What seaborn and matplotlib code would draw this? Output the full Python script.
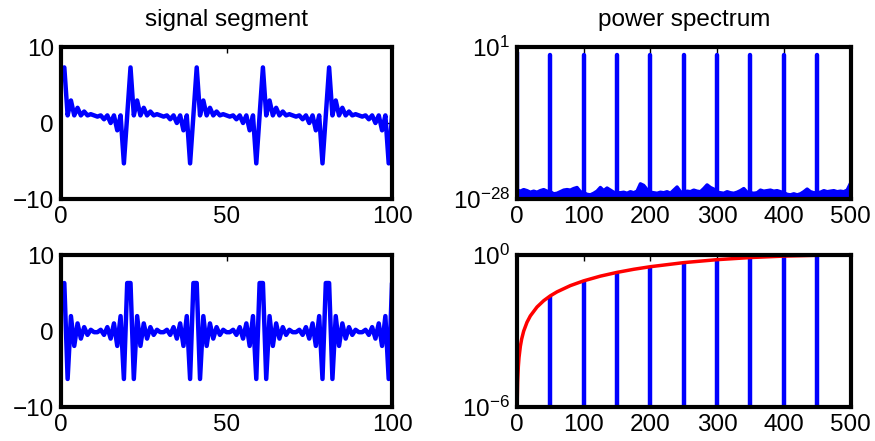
import matplotlib
matplotlib.use("Agg")
import matplotlib.pyplot as plt
import numpy as np
import pandas as pd
import seaborn as sns
from matplotlib.ticker import FixedLocator, NullLocator

# ---------------- data ----------------
sample_index = list(range(1, 101))

signal_top = [
    7.314, 1, 2.963, 1, 2.0, 1, 1.510, 1, 1.158, 1, 0.842, 1, 0.490, 1, 0.0, 1, -0.963, 1, -5.314, 1,
    7.314, 1, 2.963, 1, 2.0, 1, 1.510, 1, 1.158, 1, 0.842, 1, 0.490, 1, 0.0, 1, -0.963, 1, -5.314, 1,
    7.314, 1, 2.963, 1, 2.0, 1, 1.510, 1, 1.158, 1, 0.842, 1, 0.490, 1, 0.0, 1, -0.963, 1, -5.314, 1,
    7.314, 1, 2.963, 1, 2.0, 1, 1.510, 1, 1.158, 1, 0.842, 1, 0.490, 1, 0.0, 1, -0.963, 1, -5.314, 1,
    7.314, 1, 2.963, 1, 2.0, 1, 1.510, 1, 1.158, 1, 0.842, 1, 0.490, 1, 0.0, 1, -0.963, 1, -5.314, 1,
]

signal_bottom = [
    6.314, -6.314, 1.963, -1.963, 1.0, -1.0, 0.510, -0.510, 0.158, -0.158,
    -0.158, 0.158, -0.510, 0.510, -1.0, 1.0, -1.963, 1.963, -6.314, 6.314,
    6.314, -6.314, 1.963, -1.963, 1.0, -1.0, 0.510, -0.510, 0.158, -0.158,
    -0.158, 0.158, -0.510, 0.510, -1.0, 1.0, -1.963, 1.963, -6.314, 6.314,
    6.314, -6.314, 1.963, -1.963, 1.0, -1.0, 0.510, -0.510, 0.158, -0.158,
    -0.158, 0.158, -0.510, 0.510, -1.0, 1.0, -1.963, 1.963, -6.314, 6.314,
    6.314, -6.314, 1.963, -1.963, 1.0, -1.0, 0.510, -0.510, 0.158, -0.158,
    -0.158, 0.158, -0.510, 0.510, -1.0, 1.0, -1.963, 1.963, -6.314, 6.314,
    6.314, -6.314, 1.963, -1.963, 1.0, -1.0, 0.510, -0.510, 0.158, -0.158,
    -0.158, 0.158, -0.510, 0.510, -1.0, 1.0, -1.963, 1.963, -6.314, 6.314,
]

harm_freqs = [50, 100, 150, 200, 250, 300, 350, 400, 450]
harm_power_top = [0.25, 0.25, 0.25, 0.25, 0.25, 0.25, 0.25, 0.25, 0.25]
dc_freq = [0]
dc_power_top = [1.0]

floor_freqs = [
    0, 5, 10, 15, 20, 25, 30, 35, 40, 45, 50, 55, 60, 65, 70, 75, 80, 85, 90, 95,
    100, 105, 110, 115, 120, 125, 130, 135, 140, 145, 150, 155, 160, 165, 170, 175, 180, 185, 190, 195,
    200, 205, 210, 215, 220, 225, 230, 235, 240, 245, 250, 255, 260, 265, 270, 275, 280, 285, 290, 295,
    300, 305, 310, 315, 320, 325, 330, 335, 340, 345, 350, 355, 360, 365, 370, 375, 380, 385, 390, 395,
    400, 405, 410, 415, 420, 425, 430, 435, 440, 445, 450, 455, 460, 465, 470, 475, 480, 485, 490, 495,
    500,
]
floor_log10 = [
    -26.3, -26.5, -26.2, -26.4, -26.7, -26.5, -26.7, -26.4, -26.2, -26.5,
    -26.6, -27.0, -26.9, -26.6, -26.3, -26.2, -26.3, -26.0, -25.8, -26.6,
    -26.8, -27.1, -27.2, -26.9, -26.5, -25.8, -26.4, -25.9, -26.3, -26.7,
    -26.8, -26.8, -26.7, -26.9, -26.6, -26.8, -26.5, -25.1, -25.4, -26.2,
    -26.7, -26.8, -26.9, -26.7, -26.8, -26.6, -26.9, -26.3, -25.7, -26.6,
    -26.8, -26.5, -26.6, -26.3, -26.5, -26.6, -26.0, -25.3, -25.8, -26.1,
    -26.7, -26.8, -26.9, -26.6, -26.8, -26.9, -26.7, -26.4, -26.0, -26.7,
    -26.8, -26.9, -26.8, -26.3, -26.5, -26.4, -26.3, -26.5, -26.4, -26.6,
    -26.8, -27.1, -27.2, -27.0, -27.2, -27.0, -26.6, -26.1, -26.6, -26.8,
    -26.8, -26.7, -26.4, -26.6, -26.5, -26.4, -26.6, -26.5, -26.6, -26.3,
    -25.0,
]

harm_power_bottom = [0.02447, 0.09549, 0.20611, 0.34549, 0.5, 0.65451, 0.79389, 0.90451, 0.97553]

resp_freqs = [0.32, 0.5, 1, 2, 3, 5, 7, 10, 15, 20, 30, 40, 50, 60, 80, 100,
              125, 150, 175, 200, 250, 300, 350, 400, 450, 500]
resp_power = [1.01e-6, 2.467e-6, 9.87e-6, 3.948e-5, 8.883e-5, 2.467e-4, 4.836e-4,
              9.866e-4, 2.219e-3, 3.943e-3, 8.856e-3, 0.015708, 0.024472, 0.035112,
              0.061847, 0.095492, 0.146447, 0.206107, 0.273005, 0.345492, 0.5,
              0.654508, 0.793893, 0.904508, 0.975528, 1.0]

titles = ["signal segment", "power spectrum"]

# ---------------- style ----------------
sns.set_theme(style="white")
plt.rcParams["font.family"] = ["Liberation Sans", "DejaVu Sans"]
plt.rcParams["mathtext.fontset"] = "custom"
plt.rcParams["mathtext.rm"] = "Liberation Sans"
plt.rcParams["mathtext.it"] = "Liberation Sans:italic"
plt.rcParams["mathtext.bf"] = "Liberation Sans:bold"
plt.rcParams["axes.unicode_minus"] = True
plt.rcParams["text.color"] = "black"
plt.rcParams["axes.labelcolor"] = "black"
plt.rcParams["xtick.color"] = "black"
plt.rcParams["ytick.color"] = "black"

BLUE = "#0000ff"
RED = "#ff0000"
LW = 3.2
FS = 17.5

fig = plt.figure(figsize=(8.75, 4.41), dpi=100)
W, H = 875.0, 441.0


def make_ax(left, top, right, bottom):
    return fig.add_axes([left / W, 1 - bottom / H, (right - left) / W, (bottom - top) / H])


ax_tl = make_ax(61, 47, 392, 199)
ax_tr = make_ax(517, 47, 850.5, 199)
ax_bl = make_ax(61, 255, 392, 407)
ax_br = make_ax(517, 255, 850.5, 407)


def style_ax(ax):
    for s in ax.spines.values():
        s.set_linewidth(3.0)
        s.set_color("black")
        s.set_visible(True)
    ax.tick_params(axis="both", which="major", direction="in", length=4, width=1,
                   top=True, right=True, labelsize=FS, pad=5, colors="black")
    ax.tick_params(which="minor", left=False, right=False, bottom=False, top=False)
    ax.grid(False)
    ax.set_facecolor("white")
    ax.set_xlabel("")
    ax.set_ylabel("")


# --- signal panels ---
df_top = pd.DataFrame({"n": sample_index, "y": signal_top})
df_bot = pd.DataFrame({"n": sample_index, "y": signal_bottom})
for ax, df in [(ax_tl, df_top), (ax_bl, df_bot)]:
    sns.lineplot(data=df, x="n", y="y", ax=ax, color=BLUE, linewidth=LW, estimator=None)
    ax.set_xlim(0, 100)
    ax.set_ylim(-10, 10)
    ax.xaxis.set_major_locator(FixedLocator([0, 50, 100]))
    ax.yaxis.set_major_locator(FixedLocator([-10, 0, 10]))
    style_ax(ax)

# --- top power spectrum ---
ax = ax_tr
ax.set_yscale("log")
floor_vals = [10.0 ** v for v in floor_log10]
ax.fill_between(floor_freqs, 1e-32, floor_vals, color=BLUE, linewidth=0)
df_floor = pd.DataFrame({"f": floor_freqs, "p": floor_vals})
sns.lineplot(data=df_floor, x="f", y="p", ax=ax, color=BLUE, linewidth=2.4, estimator=None)
vl = ax.vlines(harm_freqs, 1e-32, harm_power_top, colors=BLUE, linewidth=LW)
vl.set_capstyle("round")
ax.vlines(dc_freq, 1e-32, dc_power_top, colors=BLUE, linewidth=LW)
ax.set_xlim(0, 500)
ax.set_ylim(1e-28, 1e1)
ax.xaxis.set_major_locator(FixedLocator([0, 100, 200, 300, 400, 500]))
ax.yaxis.set_major_locator(FixedLocator([1e-28, 1e1]))
ax.yaxis.set_minor_locator(NullLocator())
style_ax(ax)

# --- bottom power spectrum ---
ax = ax_br
ax.set_yscale("log")
ax.vlines(harm_freqs, 1e-8, harm_power_bottom, colors=BLUE, linewidth=LW)
df_resp = pd.DataFrame({"f": resp_freqs, "p": resp_power})
sns.lineplot(data=df_resp, x="f", y="p", ax=ax, color=RED, linewidth=2.5, estimator=None)
ax.set_xlim(0, 500)
ax.set_ylim(1e-6, 1e0)
ax.xaxis.set_major_locator(FixedLocator([0, 100, 200, 300, 400, 500]))
ax.yaxis.set_major_locator(FixedLocator([1e-6, 1e0]))
ax.yaxis.set_minor_locator(NullLocator())
style_ax(ax)

ax_tl.set_title(titles[0], fontsize=FS, pad=15, color="black")
ax_tr.set_title(titles[1], fontsize=FS, pad=15, color="black")

fig.savefig("out.png", dpi=100, facecolor="white")
